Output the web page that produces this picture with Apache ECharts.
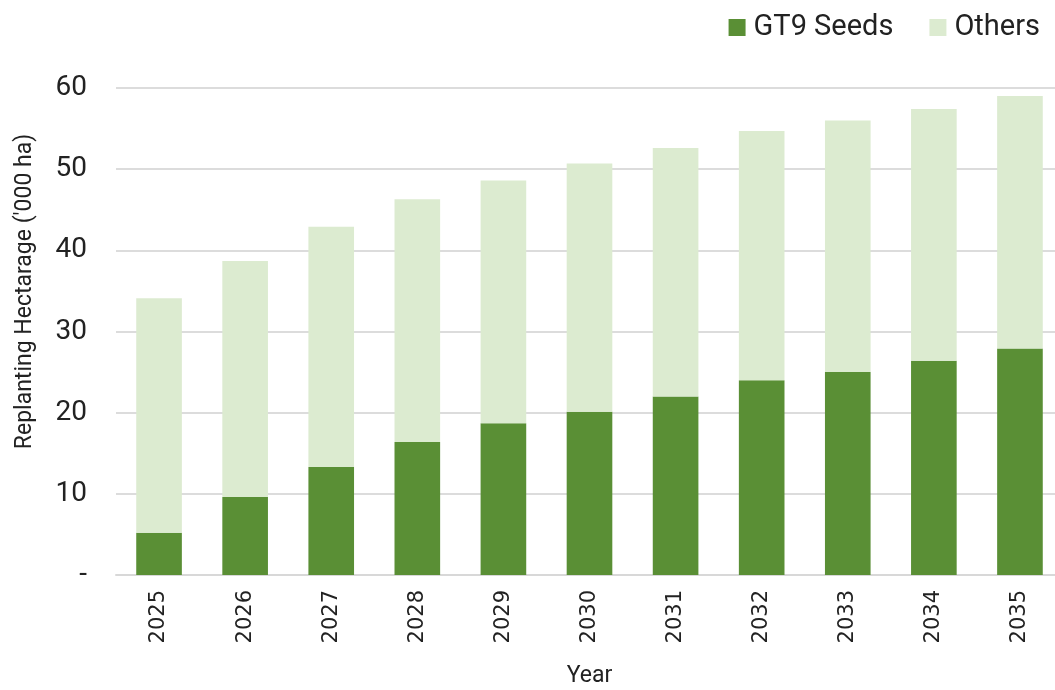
<!DOCTYPE html>
<html>
<head>
<meta charset="utf-8">
<script src="https://cdn.jsdelivr.net/npm/echarts@6/dist/echarts.min.js"></script>
<style>
  html, body { margin: 0; padding: 0; background: #fff; }
  #chart { width: 1055px; height: 690px; }
</style>
</head>
<body>
<div id="chart"></div>
<script>
// data
var years = ['2025', '2026', '2027', '2028', '2029', '2030', '2031', '2032', '2033', '2034', '2035'];
var gt9Seeds = [5.2, 9.6, 13.3, 16.4, 18.7, 20.1, 22.0, 24.0, 25.0, 26.4, 27.9];
var others = [28.9, 29.1, 29.6, 29.9, 29.9, 30.6, 30.6, 30.7, 31.0, 31.0, 31.1];

var chart = echarts.init(document.getElementById('chart'));

chart.setOption({
    animation: false,
    legend: {
        right: 10,
        top: 8,
        icon: 'rect',
        itemWidth: 17,
        itemHeight: 17,
        itemGap: 36,
        textStyle: { fontFamily: 'Roboto', fontSize: 29, color: '#222', padding: [0, 0, 0, 3] },
        data: ['GT9 Seeds', 'Others']
    },
    // bars run a little past the right edge in the original
    grid: { left: 116, top: 88, width: 947, height: 487, outerBoundsMode: 'none' },
    xAxis: {
        type: 'category',
        data: years,
        name: 'Year',
        nameLocation: 'middle',
        nameGap: 90,
        nameTextStyle: { fontFamily: 'Roboto', fontSize: 23, color: '#222' },
        axisLine: { lineStyle: { color: '#d8d8d8', width: 2 } },
        axisTick: { show: false },
        axisLabel: { rotate: 90, margin: 15, fontFamily: 'DejaVu Sans', fontSize: 21, color: '#222' }
    },
    yAxis: {
        type: 'value',
        min: 0,
        max: 60,
        interval: 10,
        name: "Replanting Hectarage ('000 ha)",
        nameLocation: 'middle',
        nameGap: 79,
        nameTextStyle: { fontFamily: 'Roboto', fontSize: 23, color: '#222', padding: [0, 0, 0, 80] },
        axisLine: { show: false },
        axisTick: { show: false },
        axisLabel: {
            margin: 29,
            fontFamily: 'Roboto',
            fontSize: 28,
            color: '#222',
            formatter: function (v) { return v === 0 ? '-' : v; }
        },
        splitLine: { lineStyle: { color: '#dcdcdc', width: 2 } }
    },
    series: [
        {
            name: 'GT9 Seeds',
            type: 'bar',
            stack: 'total',
            barWidth: '53%',
            itemStyle: { color: '#5a8f35' },
            data: gt9Seeds
        },
        {
            name: 'Others',
            type: 'bar',
            stack: 'total',
            barWidth: '53%',
            itemStyle: { color: '#dcebd0' },
            data: others
        }
    ]
});
</script>
</body>
</html>
